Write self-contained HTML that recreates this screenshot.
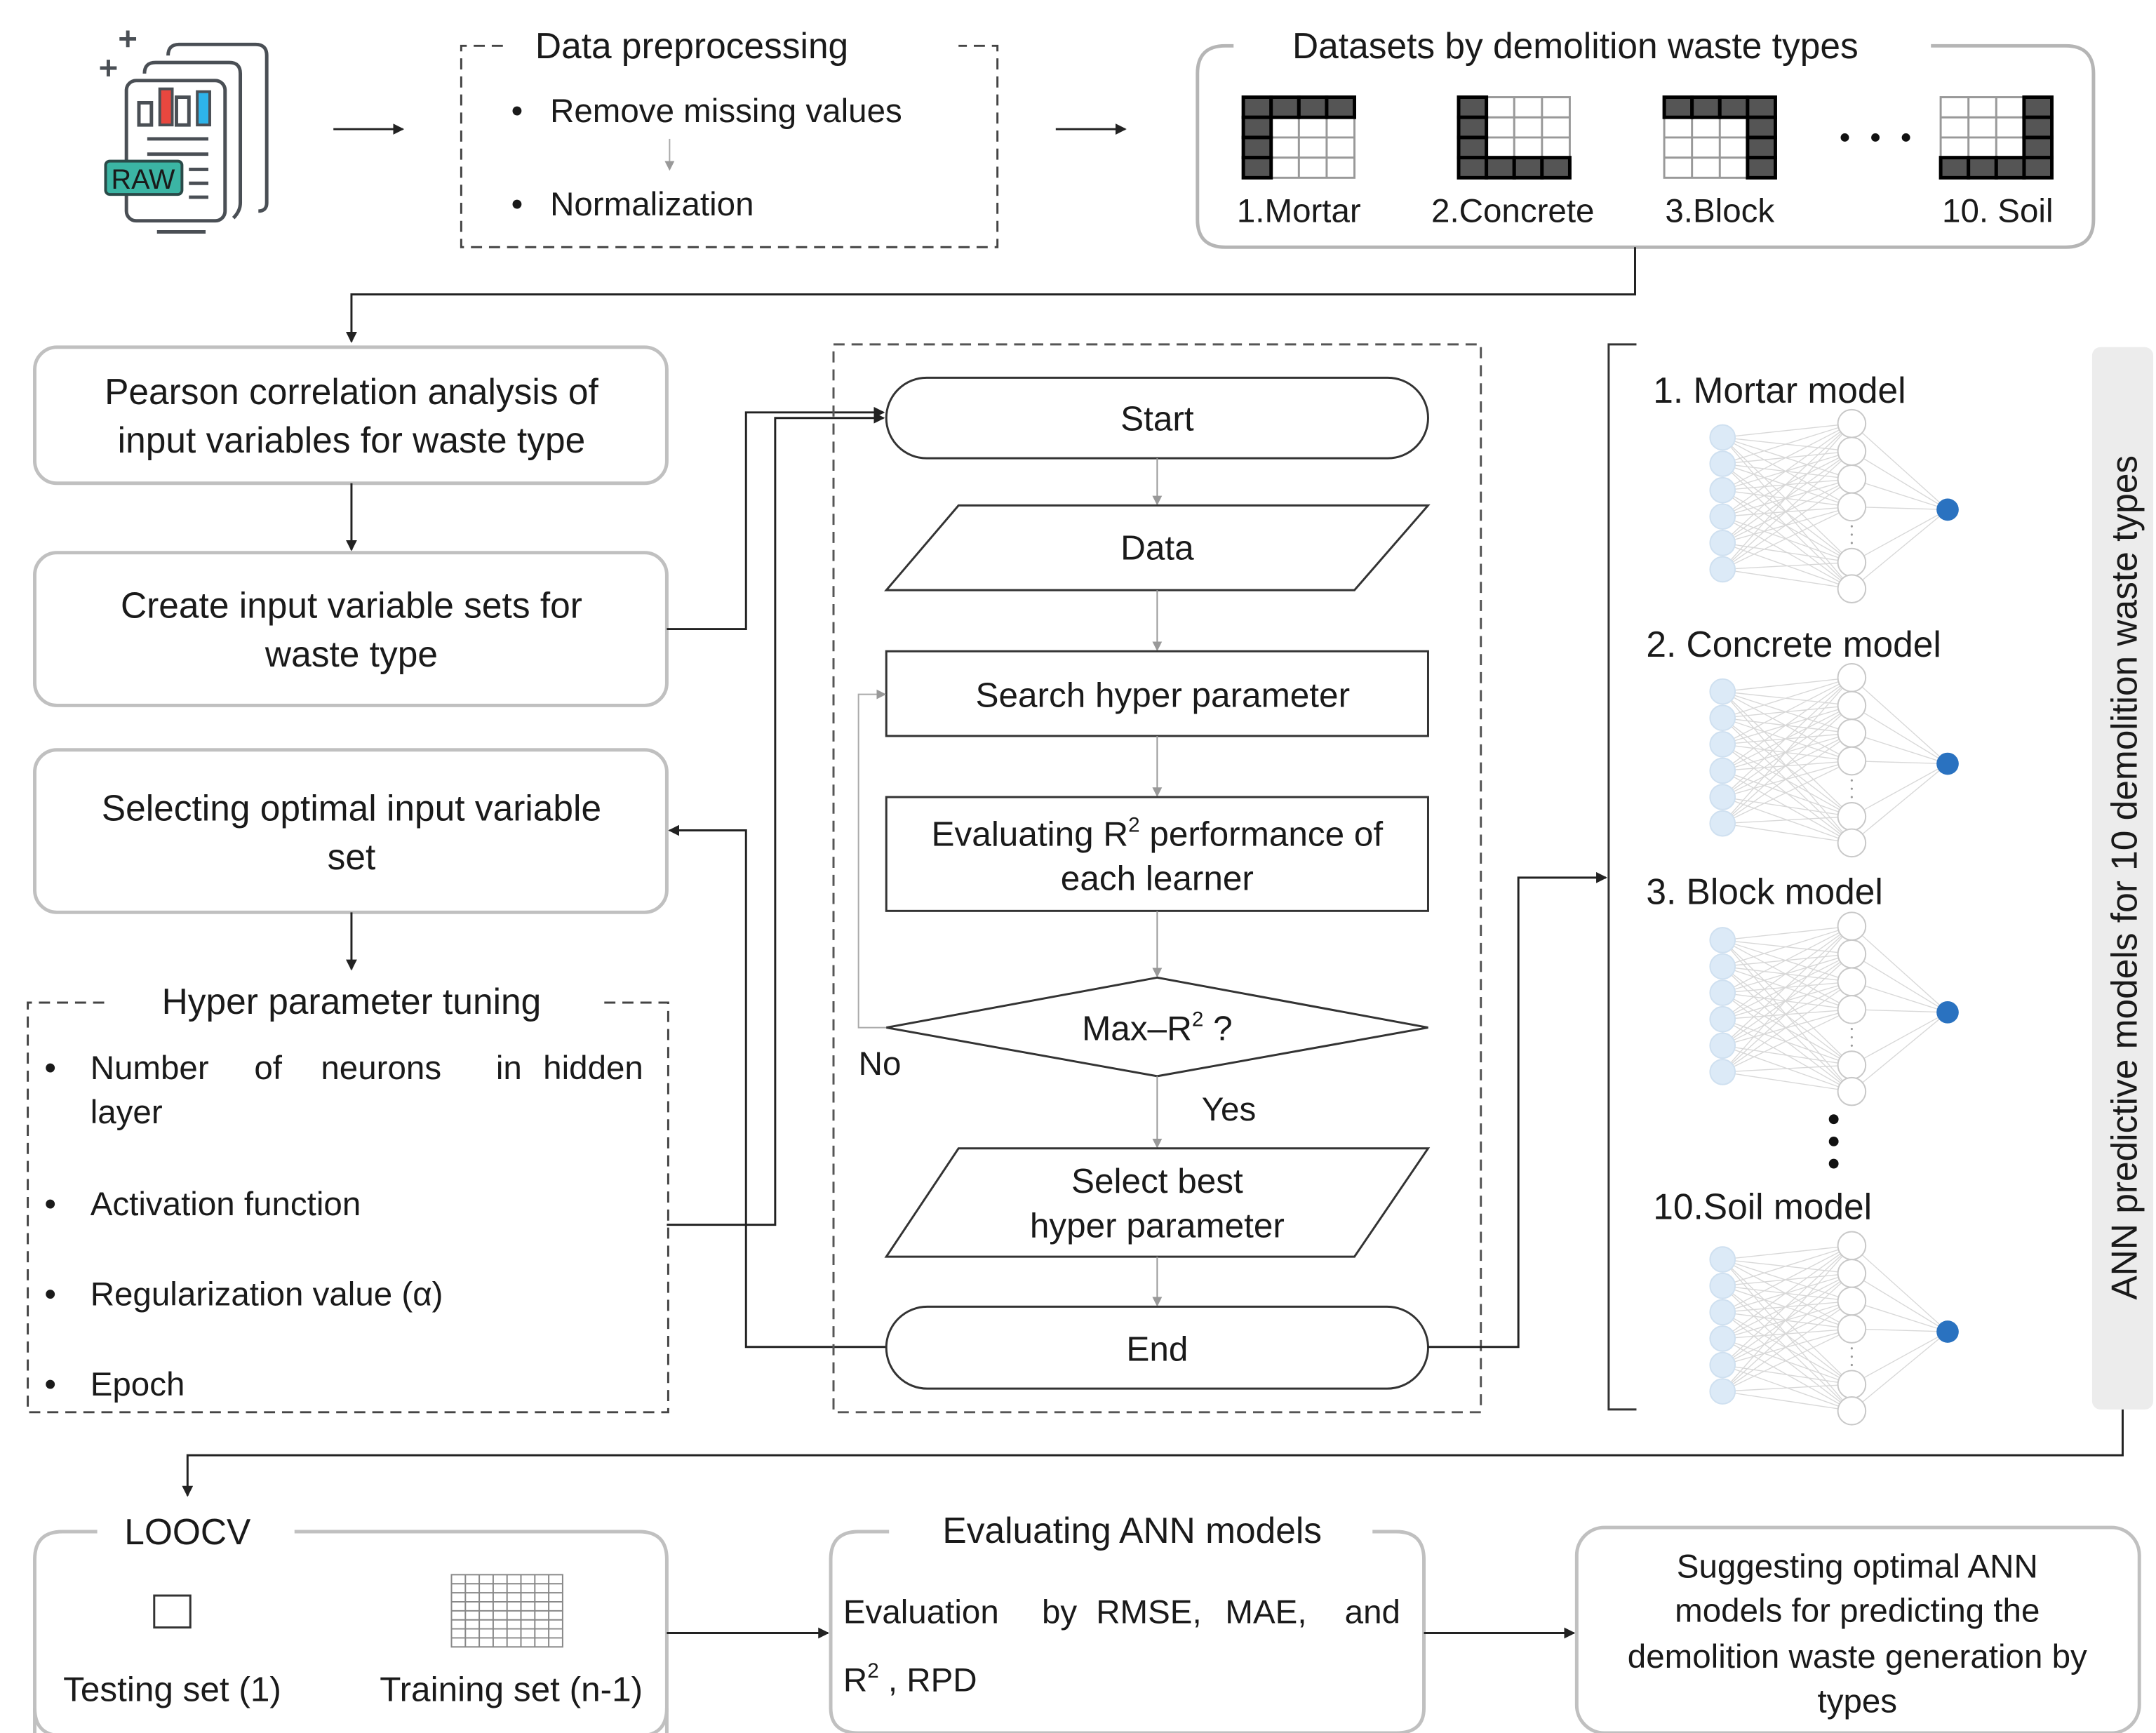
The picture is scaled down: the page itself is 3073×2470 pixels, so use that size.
<!DOCTYPE html>
<html><head><meta charset="utf-8"><style>
html,body{margin:0;padding:0;background:#fff}
svg{display:block}
text{font-family:"Liberation Sans",Arial,sans-serif;fill:#1a1a1a}
</style></head><body>
<svg width="3073" height="2470" viewBox="0 0 1552 1248" preserveAspectRatio="none" xmlns="http://www.w3.org/2000/svg">
<defs>
<marker id="ah" markerWidth="8" markerHeight="8" refX="7" refY="4" orient="auto" markerUnits="userSpaceOnUse"><path d="M0,0 L8,4 L0,8 z" fill="#222"/></marker>
<marker id="ag" markerWidth="7" markerHeight="7" refX="6" refY="3.5" orient="auto" markerUnits="userSpaceOnUse"><path d="M0,0 L7,3.5 L0,7 z" fill="#999"/></marker>
<g id="net">
<g stroke="#d8d8d8" stroke-width="0.7">
<path d="M1240,315L1333,305M1240,315L1333,325M1240,315L1333,345M1240,315L1333,365M1240,315L1333,405M1240,315L1333,424
M1240,334L1333,305M1240,334L1333,325M1240,334L1333,345M1240,334L1333,365M1240,334L1333,405M1240,334L1333,424
M1240,353L1333,305M1240,353L1333,325M1240,353L1333,345M1240,353L1333,365M1240,353L1333,405M1240,353L1333,424
M1240,372L1333,305M1240,372L1333,325M1240,372L1333,345M1240,372L1333,365M1240,372L1333,405M1240,372L1333,424
M1240,391L1333,305M1240,391L1333,325M1240,391L1333,345M1240,391L1333,365M1240,391L1333,405M1240,391L1333,424
M1240,410L1333,305M1240,410L1333,325M1240,410L1333,345M1240,410L1333,365M1240,410L1333,405M1240,410L1333,424
M1333,305L1402,367M1333,325L1402,367M1333,345L1402,367M1333,365L1402,367M1333,405L1402,367M1333,424L1402,367"/>
</g>
<g fill="#dceaf7" stroke="#cfe0f0">
<circle cx="1240" cy="315" r="9"/><circle cx="1240" cy="334" r="9"/><circle cx="1240" cy="353" r="9"/><circle cx="1240" cy="372" r="9"/><circle cx="1240" cy="391" r="9"/><circle cx="1240" cy="410" r="9"/>
</g>
<g fill="#fff" stroke="#c8c8c8">
<circle cx="1333" cy="305" r="10"/><circle cx="1333" cy="325" r="10"/><circle cx="1333" cy="345" r="10"/><circle cx="1333" cy="365" r="10"/><circle cx="1333" cy="405" r="10"/><circle cx="1333" cy="424" r="10"/>
</g>
<g fill="#999"><circle cx="1333" cy="379" r="0.8"/><circle cx="1333" cy="385" r="0.8"/><circle cx="1333" cy="391" r="0.8"/></g>
<circle cx="1402" cy="367" r="8" fill="#2a72c0"/>
</g>
<g id="grid">
<rect x="0" y="0" width="80" height="58" fill="#fff" stroke="#999" stroke-width="1.5"/>
<path d="M0,14.5H80M0,29H80M0,43.5H80M20,0V58M40,0V58M60,0V58" stroke="#999" stroke-width="1.5"/>
</g>
<rect id="dc" width="20" height="14.5" fill="#555" stroke="#000" stroke-width="2.5"/>
</defs>

<!-- RAW icon -->
<g fill="none" stroke="#4a4f55" stroke-width="2.5">
<path d="M121,40 Q121,32 129,32 L184,32 Q192,32 192,40 L192,146 Q192,152 186,152"/>
<path d="M104,53 Q104,45 112,45 L165,45 Q173,45 173,53 L173,146 Q173,152 168,157"/>
<rect x="91" y="58" width="71" height="101" rx="7"/>
<rect x="100" y="74" width="9" height="16"/>
<rect x="127" y="70" width="9" height="20"/>
<path d="M106,100 H150 M106,111 H150 M136,122 H150 M136,132 H150 M136,142 H150 M113,167 H148"/>
<path d="M78,43 V55 M72,49 H84 M92,22 V34 M86,28 H98"/>
</g>
<rect x="115" y="64" width="9" height="26" fill="#e8473f" stroke="#4a4f55" stroke-width="2"/>
<rect x="142" y="66" width="9" height="24" fill="#2eb4ea" stroke="#4a4f55" stroke-width="2"/>
<rect x="76" y="116" width="55" height="24" rx="3" fill="#3bb5a4" stroke="#2a4a48" stroke-width="2"/>
<text x="103" y="136" font-size="20" text-anchor="middle" fill="#233">RAW</text>

<line x1="240" y1="93" x2="290" y2="93" stroke="#222" stroke-width="1.5" marker-end="url(#ah)"/>
<line x1="760" y1="93" x2="810" y2="93" stroke="#222" stroke-width="1.5" marker-end="url(#ah)"/>

<!-- Data preprocessing -->
<path d="M362,33 H332 V178 H718 V33 H690" fill="none" stroke="#444" stroke-width="1.5" stroke-dasharray="8,5"/>
<text x="498" y="42" font-size="26" text-anchor="middle">Data preprocessing</text>
<text x="368" y="88" font-size="24">•</text><text x="396" y="88" font-size="24">Remove missing values</text>
<line x1="482" y1="100" x2="482" y2="122" stroke="#aaa" stroke-width="1" marker-end="url(#ag)"/>
<text x="368" y="155" font-size="24">•</text><text x="396" y="155" font-size="24">Normalization</text>

<!-- Datasets -->
<path d="M888,33 H882 Q862,33 862,53 V158 Q862,178 882,178 H1487 Q1507,178 1507,158 V53 Q1507,33 1487,33 H1390" fill="none" stroke="#b5b5b5" stroke-width="2.5"/>
<text x="1134" y="42" font-size="26" text-anchor="middle">Datasets by demolition waste types</text>

<!-- mortar: top row + left col -->
<g transform="translate(895,70)">
<use href="#grid"/>
<use href="#dc" x="0" y="0"/><use href="#dc" x="20" y="0"/><use href="#dc" x="40" y="0"/><use href="#dc" x="60" y="0"/>
<use href="#dc" x="0" y="14.5"/><use href="#dc" x="0" y="29"/><use href="#dc" x="0" y="43.5"/>
</g>
<!-- concrete: left col + bottom row -->
<g transform="translate(1050,70)">
<use href="#grid"/>
<use href="#dc" x="0" y="0"/><use href="#dc" x="0" y="14.5"/><use href="#dc" x="0" y="29"/><use href="#dc" x="0" y="43.5"/>
<use href="#dc" x="20" y="43.5"/><use href="#dc" x="40" y="43.5"/><use href="#dc" x="60" y="43.5"/>
</g>
<!-- block: top row + right col -->
<g transform="translate(1198,70)">
<use href="#grid"/>
<use href="#dc" x="0" y="0"/><use href="#dc" x="20" y="0"/><use href="#dc" x="40" y="0"/><use href="#dc" x="60" y="0"/>
<use href="#dc" x="60" y="14.5"/><use href="#dc" x="60" y="29"/><use href="#dc" x="60" y="43.5"/>
</g>
<!-- soil: right col + bottom row -->
<g transform="translate(1397,70)">
<use href="#grid"/>
<use href="#dc" x="60" y="0"/><use href="#dc" x="60" y="14.5"/><use href="#dc" x="60" y="29"/><use href="#dc" x="60" y="43.5"/>
<use href="#dc" x="0" y="43.5"/><use href="#dc" x="20" y="43.5"/><use href="#dc" x="40" y="43.5"/>
</g>
<circle cx="1328" cy="99" r="3" fill="#111"/><circle cx="1350" cy="99" r="3" fill="#111"/><circle cx="1372" cy="99" r="3" fill="#111"/>
<text x="935" y="160" font-size="24" text-anchor="middle">1.Mortar</text>
<text x="1089" y="160" font-size="24" text-anchor="middle">2.Concrete</text>
<text x="1238" y="160" font-size="24" text-anchor="middle">3.Block</text>
<text x="1438" y="160" font-size="24" text-anchor="middle">10. Soil</text>

<!-- top connector -->
<path d="M1177,178 V212 H253 V246" fill="none" stroke="#222" stroke-width="1.5" marker-end="url(#ah)"/>

<!-- left boxes -->
<rect x="25" y="250" width="455" height="98" rx="16" fill="#fff" stroke="#c0c0c0" stroke-width="2.5"/>
<text x="253" y="291" font-size="26" text-anchor="middle">Pearson correlation analysis of</text>
<text x="253" y="326" font-size="26" text-anchor="middle">input variables for waste type</text>
<line x1="253" y1="348" x2="253" y2="396" stroke="#222" stroke-width="1.5" marker-end="url(#ah)"/>
<rect x="25" y="398" width="455" height="110" rx="16" fill="#fff" stroke="#c0c0c0" stroke-width="2.5"/>
<text x="253" y="445" font-size="26" text-anchor="middle">Create input variable sets for</text>
<text x="253" y="480" font-size="26" text-anchor="middle">waste type</text>
<rect x="25" y="540" width="455" height="117" rx="16" fill="#fff" stroke="#c0c0c0" stroke-width="2.5"/>
<text x="253" y="591" font-size="26" text-anchor="middle">Selecting optimal input variable</text>
<text x="253" y="626" font-size="26" text-anchor="middle">set</text>
<line x1="253" y1="657" x2="253" y2="698" stroke="#222" stroke-width="1.5" marker-end="url(#ah)"/>

<!-- hyper parameter tuning -->
<path d="M75,722 H20 V1017 H481 V722 H430" fill="none" stroke="#444" stroke-width="1.5" stroke-dasharray="8,5"/>
<text x="253" y="730" font-size="26" text-anchor="middle">Hyper parameter tuning</text>
<text x="32" y="777" font-size="24">•</text>
<text y="777" font-size="24"><tspan x="65">Number</tspan><tspan x="183">of</tspan><tspan x="231">neurons</tspan><tspan x="357">in</tspan><tspan x="391">hidden</tspan></text>
<text x="65" y="809" font-size="24">layer</text>
<text x="32" y="875" font-size="24">•</text><text x="65" y="875" font-size="24">Activation function</text>
<text x="32" y="940" font-size="24">•</text><text x="65" y="940" font-size="24">Regularization value (α)</text>
<text x="32" y="1005" font-size="24">•</text><text x="65" y="1005" font-size="24">Epoch</text>

<!-- left connectors -->
<path d="M480,453 H537 V297 H636" fill="none" stroke="#222" stroke-width="1.5" marker-end="url(#ah)"/>
<path d="M480,882 H558 V301 H636" fill="none" stroke="#222" stroke-width="1.5" marker-end="url(#ah)"/>
<path d="M638,970 H537 V598 H482" fill="none" stroke="#222" stroke-width="1.5" marker-end="url(#ah)"/>

<!-- flow dashed frame -->
<rect x="600" y="248" width="466" height="769" fill="none" stroke="#555" stroke-width="1.5" stroke-dasharray="8,5"/>
<rect x="638" y="272" width="390" height="58" rx="29" fill="#fff" stroke="#333" stroke-width="1.5"/>
<text x="833" y="310" font-size="25" text-anchor="middle">Start</text>
<line x1="833" y1="330" x2="833" y2="363" stroke="#999" stroke-width="1" marker-end="url(#ag)"/>
<path d="M690,364 H1028 L975,425 H638 Z" fill="#fff" stroke="#333" stroke-width="1.5"/>
<text x="833" y="403" font-size="25" text-anchor="middle">Data</text>
<line x1="833" y1="425" x2="833" y2="468" stroke="#999" stroke-width="1" marker-end="url(#ag)"/>
<rect x="638" y="469" width="390" height="61" fill="#fff" stroke="#333" stroke-width="1.5"/>
<text x="837" y="509" font-size="25" text-anchor="middle">Search hyper parameter</text>
<line x1="833" y1="530" x2="833" y2="573" stroke="#999" stroke-width="1" marker-end="url(#ag)"/>
<rect x="638" y="574" width="390" height="82" fill="#fff" stroke="#333" stroke-width="1.5"/>
<text x="833" y="609" font-size="25" text-anchor="middle">Evaluating R<tspan font-size="15" dy="-10">2</tspan><tspan dy="10"> performance of</tspan></text>
<text x="833" y="641" font-size="25" text-anchor="middle">each learner</text>
<line x1="833" y1="656" x2="833" y2="703" stroke="#999" stroke-width="1" marker-end="url(#ag)"/>
<path d="M638,740 L833,704 L1028,740 L833,775 Z" fill="#fff" stroke="#333" stroke-width="1.5"/>
<text x="833" y="749" font-size="25" text-anchor="middle">Max–R<tspan font-size="15" dy="-10">2</tspan><tspan dy="10"> ?</tspan></text>
<path d="M638,740 H618 V500 H637" fill="none" stroke="#aaa" stroke-width="1" marker-end="url(#ag)"/>
<text x="618" y="774" font-size="24">No</text>
<text x="865" y="807" font-size="24">Yes</text>
<line x1="833" y1="775" x2="833" y2="826" stroke="#999" stroke-width="1" marker-end="url(#ag)"/>
<path d="M690,827 H1028 L975,905 H638 Z" fill="#fff" stroke="#333" stroke-width="1.5"/>
<text x="833" y="859" font-size="25" text-anchor="middle">Select best</text>
<text x="833" y="891" font-size="25" text-anchor="middle">hyper parameter</text>
<line x1="833" y1="905" x2="833" y2="940" stroke="#999" stroke-width="1" marker-end="url(#ag)"/>
<rect x="638" y="941" width="390" height="59" rx="29.5" fill="#fff" stroke="#333" stroke-width="1.5"/>
<text x="833" y="980" font-size="25" text-anchor="middle">End</text>
<path d="M1028,970 H1093 V632 H1156" fill="none" stroke="#222" stroke-width="1.5" marker-end="url(#ah)"/>

<!-- bracket -->
<path d="M1178,248 H1158 V1015 H1178" fill="none" stroke="#333" stroke-width="1.5"/>

<!-- models -->
<text x="1190" y="290" font-size="26">1. Mortar model</text>
<use href="#net"/>
<text x="1185" y="473" font-size="26">2. Concrete model</text>
<use href="#net" transform="translate(0,183)"/>
<text x="1185" y="651" font-size="26">3. Block model</text>
<use href="#net" transform="translate(0,362)"/>
<circle cx="1320" cy="806" r="3.5" fill="#111"/><circle cx="1320" cy="822" r="3.5" fill="#111"/><circle cx="1320" cy="838" r="3.5" fill="#111"/>
<text x="1190" y="878" font-size="26">10.Soil model</text>
<use href="#net" transform="translate(0,592)"/>

<rect x="1506" y="250" width="44" height="765" rx="6" fill="#ececec"/>
<text transform="translate(1538,632) rotate(-90)" font-size="26" text-anchor="middle">ANN predictive models for 10 demolition waste types</text>
<path d="M1528,1015 V1048 H135 V1077" fill="none" stroke="#222" stroke-width="1.5" marker-end="url(#ah)"/>

<!-- bottom boxes -->
<path d="M70,1103 H45 Q25,1103 25,1123 V1250 M480,1250 V1123 Q480,1103 460,1103 H212" fill="none" stroke="#c0c0c0" stroke-width="2.5"/>
<path d="M25,1230 Q25,1250 45,1250 H460 Q480,1250 480,1230" fill="none" stroke="#c0c0c0" stroke-width="2.5"/>
<text x="135" y="1112" font-size="26" text-anchor="middle">LOOCV</text>
<rect x="111" y="1149" width="26" height="23" fill="#fff" stroke="#333" stroke-width="1.5"/>
<g stroke="#888" stroke-width="1" fill="none">
<rect x="325" y="1134" width="80" height="52"/>
<path d="M325,1140.5H405M325,1147H405M325,1153.5H405M325,1160H405M325,1166.5H405M325,1173H405M325,1179.5H405
M335,1134V1186M345,1134V1186M355,1134V1186M365,1134V1186M375,1134V1186M385,1134V1186M395,1134V1186"/>
</g>
<text x="124" y="1225" font-size="25" text-anchor="middle">Testing set (1)</text>
<text x="368" y="1225" font-size="25" text-anchor="middle">Training set (n-1)</text>
<line x1="480" y1="1176" x2="596" y2="1176" stroke="#222" stroke-width="1.5" marker-end="url(#ah)"/>

<path d="M640,1103 H618 Q598,1103 598,1123 V1230 Q598,1248 618,1248 H1005 Q1025,1248 1025,1230 V1123 Q1025,1103 1005,1103 H988" fill="none" stroke="#c0c0c0" stroke-width="2.5"/>
<text x="815" y="1111" font-size="26" text-anchor="middle">Evaluating ANN models</text>
<text y="1169" font-size="24"><tspan x="607">Evaluation</tspan><tspan x="750">by</tspan><tspan x="789">RMSE,</tspan><tspan x="882">MAE,</tspan><tspan x="968">and</tspan></text>
<text x="607" y="1218" font-size="24">R<tspan font-size="15" dy="-10">2</tspan><tspan dy="10"> , RPD</tspan></text>
<line x1="1025" y1="1176" x2="1133" y2="1176" stroke="#222" stroke-width="1.5" marker-end="url(#ah)"/>

<rect x="1135" y="1100" width="405" height="148" rx="20" fill="#fff" stroke="#c0c0c0" stroke-width="2.5"/>
<text x="1337" y="1136" font-size="24" text-anchor="middle">Suggesting optimal ANN</text>
<text x="1337" y="1168" font-size="24" text-anchor="middle">models for predicting the</text>
<text x="1337" y="1201" font-size="24" text-anchor="middle">demolition waste generation by</text>
<text x="1337" y="1233" font-size="24" text-anchor="middle">types</text>
</svg>
</body></html>
